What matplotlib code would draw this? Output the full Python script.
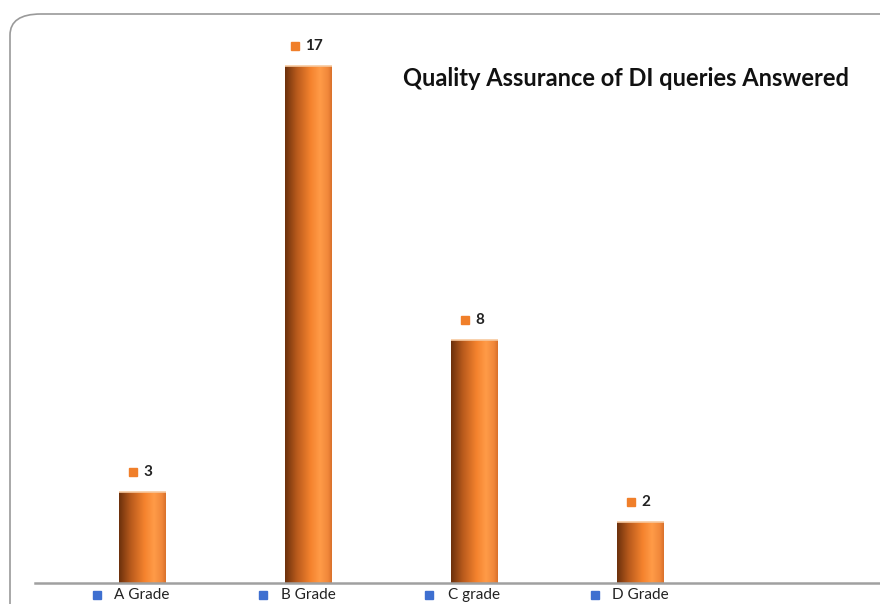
import numpy as np
import matplotlib
matplotlib.use("Agg")
from matplotlib import pyplot as plt
from matplotlib import transforms
from matplotlib.colors import LinearSegmentedColormap
from matplotlib.patches import FancyBboxPatch

# data
grades = ['A Grade', 'B Grade', 'C grade', 'D Grade']
answered = [3, 17, 8, 2]
title = 'Quality Assurance of DI queries Answered'

plt.rcParams['font.family'] = ['Lato', 'DejaVu Sans']


def main():
    fig = plt.figure(figsize=(8.8, 6.04), dpi=100)

    # rounded outer frame, runs off the right and bottom edges
    frame = FancyBboxPatch((10 / 880, -0.05), 1.2, 1.0 - 14 / 604 + 0.05,
                           boxstyle="round,pad=0,rounding_size=0.035",
                           transform=fig.transFigure, fill=False,
                           edgecolor='#9a9a9a', linewidth=1.2)
    fig.patches.append(frame)

    ax = fig.add_axes([35 / 880, 21 / 604, 845 / 880, 562.6 / 604])
    for side in ['top', 'right', 'left']:
        ax.spines[side].set_visible(False)
    ax.spines['bottom'].set_color('#a0a0a0')
    ax.spines['bottom'].set_linewidth(1.8)
    ax.set_xticks([])
    ax.set_yticks([])
    ax.patch.set_alpha(0)

    x = np.arange(len(grades))
    bars = ax.bar(x, answered, width=0.283, color='none', edgecolor='none', zorder=2)

    # cylinder-like shading across each bar
    shade = LinearSegmentedColormap.from_list('shade', [
        (0.0, '#6b300c'), (0.25, '#b85a1c'), (0.55, '#f5832e'),
        (0.75, '#ff9b48'), (0.92, '#f0873a'), (1.0, '#d8702a')])
    grad = np.linspace(0, 1, 256).reshape(1, -1)
    for b in bars:
        x0, w, h = b.get_x(), b.get_width(), b.get_height()
        im = ax.imshow(grad, cmap=shade, aspect='auto', extent=[x0, x0 + w, 0, h],
                       zorder=2, interpolation='bicubic')
        im.set_clip_path(b)
        ax.plot([x0, x0 + w], [h, h], color='#f7c9a0', lw=1.2, zorder=3,
                solid_capstyle='butt')
    ax.set_xlim(-0.645, 4.445)
    ax.set_ylim(0, 18.5)

    # value labels: small orange square + number
    for xi, v in zip(x, answered):
        sq = transforms.offset_copy(ax.transData, fig=fig, x=-9 if v < 10 else -13,
                                    y=20, units='dots')
        ax.plot([xi], [v], marker='s', ms=6, color='#f07f2a', transform=sq,
                clip_on=False, zorder=4)
        tt = transforms.offset_copy(ax.transData, fig=fig, x=1 if v < 10 else -3,
                                    y=20, units='dots')
        ax.text(xi, v, str(v), transform=tt, ha='left', va='center',
                fontsize=11, fontweight='bold', color='#222222')

    # category labels below axis with blue squares
    lab = transforms.blended_transform_factory(ax.transData, ax.transAxes)
    for xi, g in zip(x, grades):
        sq = transforms.offset_copy(lab, fig=fig, x=-45, y=-12, units='dots')
        ax.plot([xi], [0], marker='s', ms=6, color='#3e6fd0', transform=sq,
                clip_on=False)
        tt = transforms.offset_copy(lab, fig=fig, x=0, y=-12, units='dots')
        ax.text(xi, 0, g, transform=tt, ha='center', va='center',
                fontsize=11, color='#222222')

    fig.text(626 / 880, 1 - 78 / 604, title, ha='center', va='center',
             fontsize=17, fontweight='bold', color='#111111')

    fig.savefig('out.png', dpi=100)


if __name__ == "__main__":
    main()
